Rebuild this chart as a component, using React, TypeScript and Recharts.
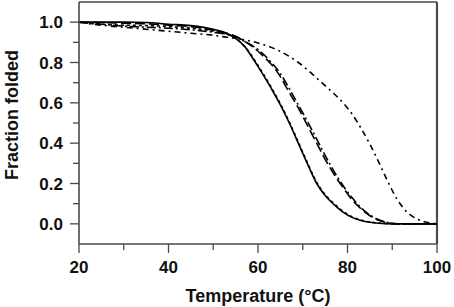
import React from "react";
import { LineChart, Line, XAxis, YAxis, ReferenceLine, Label } from "recharts";

const temps = [20, 25, 30, 35, 40, 45, 50, 53, 55, 57, 59, 61, 63, 65, 67, 69, 71, 73, 75, 77, 79, 81, 83, 85, 87, 89, 91, 93, 95, 97, 100];

const solid = [1.0, 1.0, 1.0, 0.998, 0.99, 0.983, 0.965, 0.945, 0.92, 0.88, 0.815, 0.745, 0.67, 0.59, 0.5, 0.4, 0.3, 0.205, 0.14, 0.095, 0.058, 0.032, 0.017, 0.008, 0.003, 0.001, 0, 0, 0, 0, 0];
const shortDash = [1.0, 0.99, 0.985, 0.983, 0.978, 0.97, 0.955, 0.94, 0.92, 0.88, 0.82, 0.75, 0.675, 0.595, 0.505, 0.405, 0.305, 0.21, 0.145, 0.1, 0.062, 0.035, 0.019, 0.009, 0.004, 0.001, 0, 0, 0, 0, 0];
const longDashA = [1.0, 0.998, 0.995, 0.992, 0.985, 0.978, 0.96, 0.945, 0.93, 0.905, 0.875, 0.835, 0.79, 0.73, 0.65, 0.575, 0.49, 0.405, 0.32, 0.245, 0.18, 0.12, 0.075, 0.04, 0.018, 0.005, 0, 0, 0, 0, 0];
const longDashB = [1.0, 0.99, 0.98, 0.975, 0.97, 0.962, 0.95, 0.94, 0.928, 0.905, 0.88, 0.845, 0.8, 0.745, 0.67, 0.59, 0.51, 0.425, 0.34, 0.26, 0.19, 0.13, 0.08, 0.044, 0.02, 0.006, 0, 0, 0, 0, 0];
const dashDot = [1.0, 0.985, 0.975, 0.965, 0.955, 0.945, 0.935, 0.925, 0.92, 0.912, 0.903, 0.89, 0.875, 0.855, 0.83, 0.8, 0.765, 0.725, 0.685, 0.645, 0.6, 0.545, 0.475, 0.395, 0.305, 0.21, 0.125, 0.065, 0.03, 0.012, 0];

const xTicks = [20, 30, 40, 50, 60, 70, 80, 90, 100];
const xLabels = [20, 40, 60, 80, 100];
const yTicks = [0, 0.1, 0.2, 0.3, 0.4, 0.5, 0.6, 0.7, 0.8, 0.9, 1.0];
const yLabels = [0, 0.2, 0.4, 0.6, 0.8, 1.0];

const data = temps.map((t, i) => ({
  t,
  solid: solid[i],
  shortDash: shortDash[i],
  longDashA: longDashA[i],
  longDashB: longDashB[i],
  dashDot: dashDot[i],
}));

const AXIS = "#4a4a4a";
const FONT = "'Liberation Sans', Arial, sans-serif";

const YTick = (props: any) => {
  const { x, y, payload } = props;
  const v = payload.value;
  const major = yLabels.some((l) => Math.abs(l - v) < 1e-6);
  return (
    <g>
      <line x1={x} y1={y} x2={x - (major ? 9 : 6)} y2={y} stroke={AXIS} strokeWidth={1.3} />
      {major && (
        <text x={x - 16} y={y} dy="0.36em" textAnchor="end" fontFamily={FONT} fontWeight="bold" fontSize={17} fill="#111">
          {v.toFixed(1)}
        </text>
      )}
    </g>
  );
};

const XTick = (props: any) => {
  const { x, y, payload } = props;
  const v = payload.value;
  const major = xLabels.includes(v);
  return (
    <g>
      <line x1={x} y1={y} x2={x} y2={y + (major ? 9 : 6)} stroke={AXIS} strokeWidth={1.3} />
      {major && (
        <text x={x} y={y + 29} textAnchor="middle" fontFamily={FONT} fontWeight="bold" fontSize={17} fill="#111">
          {v}
        </text>
      )}
    </g>
  );
};

export default function App() {
  return (
    <div style={{ position: "absolute", left: 0, top: 0, width: 454, height: 307, background: "#fff" }}>
      <LineChart width={454} height={307} data={data} margin={{ top: 2, right: 17, bottom: 0, left: 0 }}>
        <XAxis
          dataKey="t"
          type="number"
          domain={[20, 100]}
          ticks={xTicks}
          tick={<XTick />}
          tickLine={false}
          tickSize={0}
          tickMargin={0}
          height={63}
          axisLine={{ stroke: AXIS, strokeWidth: 1.6 }}
          interval={0}
        >
          <Label
            content={(p: any) => {
              const vb = p.viewBox || { x: 79, y: 244, width: 358, height: 63 };
              return (
                <text x={vb.x + vb.width / 2} y={vb.y + 58} textAnchor="middle" fontFamily={FONT} fontWeight="bold" fontSize={18} fill="#111">
                  Temperature (°C)
                </text>
              );
            }}
          />
        </XAxis>
        <YAxis
          type="number"
          domain={[-0.1, 1.1]}
          ticks={yTicks}
          tick={<YTick />}
          tickLine={false}
          tickSize={0}
          tickMargin={0}
          width={79}
          axisLine={{ stroke: AXIS, strokeWidth: 1.6 }}
          interval={0}
        >
          <Label
            content={(p: any) => {
              const vb = p.viewBox || { x: 0, y: 2, width: 79, height: 242 };
              const cx = vb.x + 18;
              const cy = vb.y + vb.height / 2 - 8;
              return (
                <text x={cx} y={cy} transform={`rotate(-90 ${cx} ${cy})`} textAnchor="middle" fontFamily={FONT} fontWeight="bold" fontSize={18} fill="#111">
                  Fraction folded
                </text>
              );
            }}
          />
        </YAxis>
        <ReferenceLine y={1.1} stroke={AXIS} strokeWidth={1.6} />
        <ReferenceLine x={100} stroke={AXIS} strokeWidth={2.2} />
        <Line type="monotone" dataKey="solid" stroke="#000" strokeWidth={1.6} dot={false} isAnimationActive={false} />
        <Line type="monotone" dataKey="shortDash" stroke="#000" strokeWidth={1.6} strokeDasharray="3 3" dot={false} isAnimationActive={false} />
        <Line type="monotone" dataKey="longDashA" stroke="#000" strokeWidth={1.6} strokeDasharray="10 4" dot={false} isAnimationActive={false} />
        <Line type="monotone" dataKey="longDashB" stroke="#000" strokeWidth={1.6} strokeDasharray="9 3 2 3" dot={false} isAnimationActive={false} />
        <Line type="monotone" dataKey="dashDot" stroke="#000" strokeWidth={1.6} strokeDasharray="6 4 2 4" dot={false} isAnimationActive={false} />
      </LineChart>
    </div>
  );
}
